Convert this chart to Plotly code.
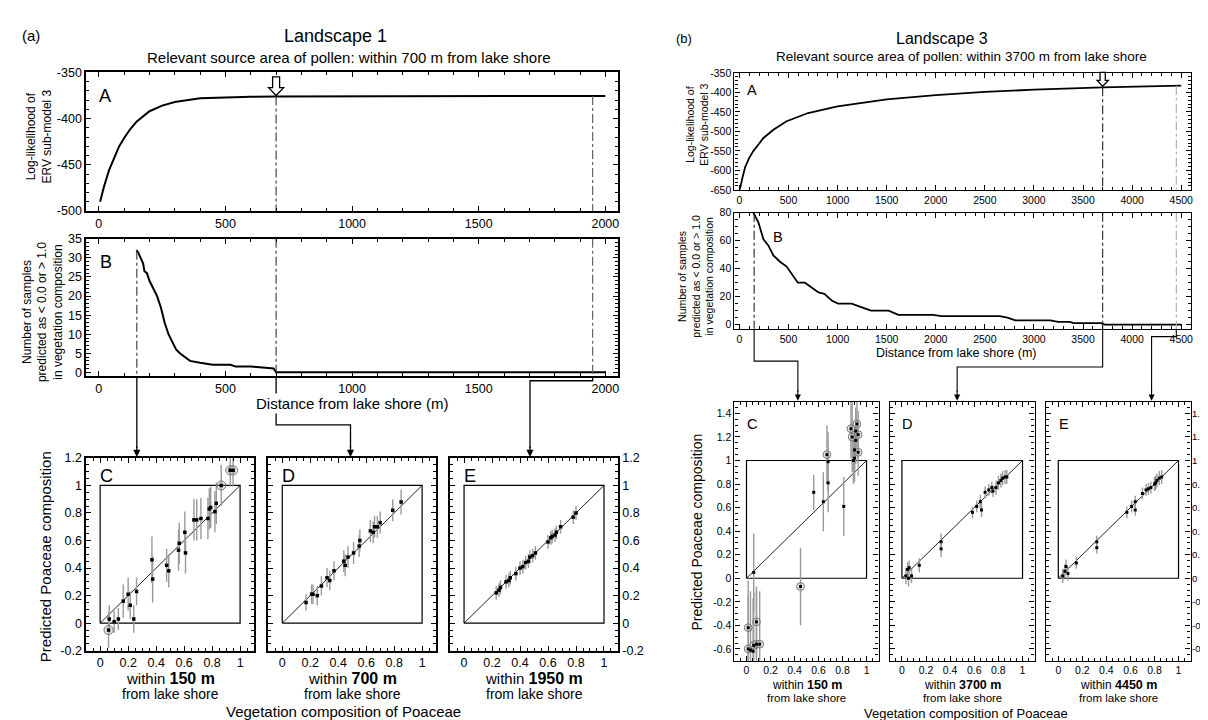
import numpy as np
import plotly.graph_objects as go

W, H = 1208, 720
FONT = "Liberation Sans, Arial, sans-serif"

# ---------------- data: Landscape 1 (left) ----------------
la_dist = [5, 20, 40, 60, 80, 100, 125, 150, 175, 200, 250, 300, 400, 500, 600, 700, 900, 1200, 1600, 2000]
la_loglik = [-490, -474, -456, -442, -430, -421, -411, -403, -397, -392, -386, -382, -378, -377, -376.3,
             -376, -375.8, -375.7, -375.6, -375.5]

lb_dist = [148, 155, 165, 175, 180, 190, 200, 215, 230, 245, 260, 275, 290, 305, 320, 340, 360,
           400, 450, 520, 540, 600, 690, 700, 2000]
lb_count = [32, 31.5, 30, 28.5, 26.5, 26, 24, 22, 20, 17, 13, 10, 8, 6, 5, 4, 3,
            2.5, 2, 2, 1.5, 1.5, 1, 0, 0]
l_marks = [150, 700, 1950]

lc_x = [0.06, 0.065, 0.10, 0.13, 0.165, 0.20, 0.215, 0.24, 0.26, 0.37, 0.375, 0.475, 0.49, 0.56,
        0.565, 0.605, 0.61, 0.67, 0.69, 0.72, 0.77, 0.78, 0.79, 0.82, 0.83, 0.865, 0.93, 0.95]
lc_y = [-0.05, 0.03, 0.01, 0.03, 0.16, 0.21, 0.13, 0.03, 0.23, 0.46, 0.32, 0.42, 0.38, 0.53,
        0.58, 0.66, 0.51, 0.75, 0.75, 0.76, 0.76, 0.83, 0.84, 0.81, 0.87, 1.0, 1.11, 1.11]
lc_err = [0.13, 0.1, 0.08, 0.08, 0.12, 0.12, 0.1, 0.1, 0.1, 0.17, 0.17, 0.12, 0.12, 0.15,
          0.15, 0.15, 0.15, 0.15, 0.15, 0.15, 0.15, 0.15, 0.15, 0.15, 0.15, 0.15, 0.12, 0.12]
lc_ring = [0, 25, 26, 27]

ld_x = [0.17, 0.21, 0.22, 0.25, 0.28, 0.32, 0.34, 0.37, 0.44, 0.45, 0.47, 0.51, 0.55, 0.555,
        0.63, 0.65, 0.66, 0.68, 0.70, 0.79, 0.85]
ld_y = [0.15, 0.21, 0.21, 0.20, 0.27, 0.33, 0.31, 0.38, 0.45, 0.42, 0.48, 0.51, 0.56, 0.60,
        0.67, 0.66, 0.70, 0.70, 0.73, 0.82, 0.88]
ld_err = [0.06, 0.07, 0.07, 0.07, 0.07, 0.07, 0.07, 0.07, 0.08, 0.08, 0.08, 0.08, 0.08, 0.08,
          0.08, 0.08, 0.08, 0.08, 0.08, 0.08, 0.09]

le_x = [0.23, 0.25, 0.26, 0.30, 0.32, 0.33, 0.37, 0.40, 0.42, 0.44, 0.46, 0.47, 0.49, 0.51,
        0.60, 0.62, 0.63, 0.65, 0.66, 0.69, 0.78, 0.80]
le_y = [0.22, 0.24, 0.26, 0.30, 0.31, 0.33, 0.36, 0.40, 0.41, 0.44, 0.45, 0.48, 0.49, 0.51,
        0.59, 0.62, 0.63, 0.64, 0.66, 0.70, 0.77, 0.80]
le_err = [0.05] * 22

# ---------------- data: Landscape 3 (right) ----------------
ra_dist = [0, 10, 30, 58, 100, 143, 200, 245, 346, 481, 700, 1000, 1500, 2000, 2500, 3000,
           3700, 4500]
ra_loglik = [-650, -643, -620, -592, -568, -550, -532, -517, -496, -474, -453, -436, -418, -407,
             -399, -393, -387, -383]

rb_dist = [143, 194, 245, 296, 346, 414, 481, 595, 667, 726, 806, 865, 944, 1004, 1143, 1262,
           1341, 1520, 1619, 1976, 2056, 2651, 2730, 2810, 3167, 3246, 3365, 3405, 3683, 3722, 4500]
rb_count = [80, 73, 61, 56.5, 49.5, 45, 41.5, 30, 30, 27, 23, 22, 17, 15, 15, 12,
            10, 10, 7, 7, 6, 6, 5, 3, 3, 2, 2, 1, 1, 0, 0]
r_marks = [150, 3700, 4450]

rc_x = [0.06, 0.56, 0.64, 0.68, 0.68, 0.67, 0.81, 0.45, 0.87, 0.88, 0.92, 0.91, 0.93, 0.91,
        0.90, 0.93, 0.89, 0.90, 0.014, 0.083, 0.014, 0.033, 0.055, 0.06, 0.083, 0.11]
rc_y = [0.05, 0.73, 0.65, 0.81, 0.99, 1.05, 0.61, -0.07, 1.27, 1.20, 1.31, 1.25, 1.22, 1.17,
        1.09, 1.07, 1.0, 1.02, -0.42, -0.37, -0.60, -0.61, -0.62, -0.57, -0.56, -0.56]
rc_err = [0.33, 0.15, 0.25, 0.25, 0.25, 0.25, 0.25, 0.33, 0.25, 0.3, 0.2, 0.2, 0.2, 0.2,
          0.2, 0.2, 0.2, 0.2, 0.4, 0.3, 0.45, 0.5, 0.45, 0.45, 0.45, 0.45]
rc_ring = [5, 7, 8, 9, 10, 12, 15, 18, 19, 20, 23, 24, 25]

rd_x = [0.033, 0.047, 0.06, 0.055, 0.08, 0.144, 0.325, 0.325, 0.585, 0.62, 0.65, 0.66, 0.69,
        0.72, 0.745, 0.755, 0.78, 0.80, 0.82, 0.835, 0.855, 0.87]
rd_y = [0.02, 0.075, 0.09, 0.0, 0.02, 0.11, 0.31, 0.25, 0.56, 0.61, 0.65, 0.58, 0.73,
        0.75, 0.77, 0.74, 0.77, 0.81, 0.83, 0.85, 0.86, 0.86]
rd_err = [0.07, 0.06, 0.06, 0.07, 0.06, 0.06, 0.07, 0.07, 0.05, 0.05, 0.06, 0.06, 0.05,
          0.05, 0.05, 0.05, 0.06, 0.06, 0.06, 0.06, 0.06, 0.06]

re_x = [0.037, 0.055, 0.064, 0.08, 0.15, 0.32, 0.32, 0.57, 0.61, 0.64, 0.64, 0.70, 0.73,
        0.75, 0.77, 0.80, 0.82, 0.84, 0.86, 0.81]
re_y = [0.02, 0.06, 0.10, 0.04, 0.13, 0.31, 0.26, 0.56, 0.61, 0.65, 0.58, 0.72, 0.75,
        0.76, 0.77, 0.80, 0.83, 0.85, 0.86, 0.81]
re_err = [0.06, 0.06, 0.06, 0.06, 0.05, 0.05, 0.05, 0.05, 0.05, 0.05, 0.05, 0.05, 0.05,
          0.05, 0.05, 0.06, 0.06, 0.06, 0.06, 0.06]

# ---------------- panel geometry (pixels) ----------------
# name: (axis number, x0, x1, y0, y1, xrange, yrange)
panels = {
    "LA": (1, 78.3, 611, 58.5, 200, [-50, 2050], [-500, -350]),
    "LB": (2, 78.3, 611, 228.3, 368.3, [-50, 2050], [-1, 35]),
    "LC": (3, 78.3, 246.5, 451.7, 648.3, [-0.1, 1.1], [-0.2, 1.2]),
    "LD": (4, 260.7, 428.8, 451.7, 648.3, [-0.1, 1.1], [-0.2, 1.2]),
    "LE": (5, 442.8, 611, 451.7, 648.3, [-0.1, 1.1], [-0.2, 1.2]),
    "RA": (6, 727.7, 1185, 59, 178.3, [-50, 4600], [-650, -350]),
    "RB": (7, 727.7, 1185, 201.7, 320, [-50, 4600], [-3, 80]),
    "RC": (8, 727.7, 872, 394.3, 658.5, [-0.1, 1.1], [-0.7, 1.5]),
    "RD": (9, 883.3, 1028.3, 394.3, 658.5, [-0.1, 1.1], [-0.7, 1.5]),
    "RE": (10, 1040, 1184.5, 394.3, 658.5, [-0.1, 1.1], [-0.7, 1.5]),
}


def px(x):
    return x / W


def py(y):
    return 1 - y / H


def ref(name):
    n = panels[name][0]
    s = "" if n == 1 else str(n)
    return "x" + s, "y" + s


def to_px_x(name, v):
    _, x0, x1, _, _, xr, _ = panels[name]
    return x0 + (v - xr[0]) / (xr[1] - xr[0]) * (x1 - x0)


def fmt(v):
    return f"{v:g}"


fig = go.Figure()
layout = dict(width=W, height=H, margin=dict(l=0, r=0, t=0, b=0), showlegend=False,
              plot_bgcolor="white", paper_bgcolor="white", font=dict(family=FONT, color="black"))

unit = [0, 0.2, 0.4, 0.6, 0.8, 1]
l_comp = [-0.2, 0, 0.2, 0.4, 0.6, 0.8, 1, 1.2]
r_comp = [-0.6, -0.4, -0.2, 0, 0.2, 0.4, 0.6, 0.8, 1, 1.2, 1.4]
tick_cfg = {
    "LA": (list(range(0, 2001, 500)), 100, list(range(-500, -349, 50)), 10, "left", 12.5),
    "LB": (list(range(0, 2001, 500)), 100, list(range(0, 36, 5)), 1, "left", 12.5),
    "LC": (unit, 0.05, l_comp, 0.05, "left", 12.5),
    "LD": (unit, 0.05, l_comp, 0.05, None, 12.5),
    "LE": (unit, 0.05, l_comp, 0.05, "right", 12.5),
    "RA": (list(range(0, 4501, 500)), 100, list(range(-650, -349, 50)), 10, "left", 10.5),
    "RB": (list(range(0, 4501, 500)), 100, list(range(0, 81, 20)), 5, "left", 10.5),
    "RC": (unit, 0.05, r_comp, 0.05, "left", 10.5),
    "RD": (unit, 0.05, r_comp, 0.05, None, 10.5),
    "RE": (unit, 0.05, r_comp, 0.05, None, 10.5),
}

for name, (n, x0, x1, y0, y1, xr, yr) in panels.items():
    xt, xminor, yt, yminor, yside, fs = tick_cfg[name]
    lw = 1.6 if name[0] == "L" else 1.3
    common = dict(showline=True, linecolor="black", linewidth=lw, mirror="allticks", ticks="inside",
                  ticklen=5, tickwidth=1, tickcolor="black", showgrid=False, zeroline=False,
                  tickfont=dict(size=fs, family=FONT), tickmode="array")
    s = "" if n == 1 else str(n)
    layout["xaxis" + s] = dict(common, domain=[px(x0), px(x1)], range=xr, anchor="y" + s,
                               tickvals=xt, ticktext=[fmt(v) for v in xt],
                               minor=dict(tickmode="linear", tick0=0, dtick=xminor, ticks="inside",
                                          ticklen=3, tickcolor="black", showgrid=False))
    layout["yaxis" + s] = dict(common, domain=[py(y1), py(y0)], range=yr, anchor="x" + s,
                               tickvals=yt, ticktext=[fmt(v) for v in yt],
                               showticklabels=yside is not None, side=yside or "left",
                               minor=dict(tickmode="linear", tick0=0, dtick=yminor, ticks="inside",
                                          ticklen=3, tickcolor="black", showgrid=False))

# ---------------- curves ----------------
for name, xs, ys, w in [("LA", la_dist, la_loglik, 2), ("LB", lb_dist, lb_count, 2),
                        ("RA", ra_dist, ra_loglik, 1.8), ("RB", rb_dist, rb_count, 1.8)]:
    xa, ya = ref(name)
    fig.add_trace(go.Scatter(x=xs, y=ys, xaxis=xa, yaxis=ya, mode="lines",
                             line=dict(color="black", width=w), hoverinfo="skip"))


# dash-dot markers of the chosen distances
def vline(name, xv, ytop, ybot, color):
    xa, ya = ref(name)
    fig.add_trace(go.Scatter(x=[xv, xv], y=[ytop, ybot], xaxis=xa, yaxis=ya, mode="lines",
                             line=dict(color=color, width=1.1, dash="dashdot"), hoverinfo="skip"))


for i, m in enumerate(l_marks):
    col = "#333" if i < 2 else "#555"
    if i > 0:
        vline("LA", m, float(np.interp(m, la_dist, la_loglik)), panels["LA"][6][0], col)
        vline("LB", m, panels["LB"][6][1], panels["LB"][6][0], col)
    else:
        vline("LB", m, float(np.interp(m, lb_dist, lb_count)), panels["LB"][6][0], col)

for i, m in enumerate(r_marks):
    col = "#222" if i < 2 else "#aaa"
    if i > 0:
        vline("RA", m, float(np.interp(m, ra_dist, ra_loglik)), panels["RA"][6][0], col)
    vline("RB", m, panels["RB"][6][1], panels["RB"][6][0], col)


# ---------------- scatter panels ----------------
def scatter_panel(name, xs, ys, errs, rings, size):
    xa, ya = ref(name)
    # valid-range box and 1:1 line
    fig.add_trace(go.Scatter(x=[0, 1, 1, 0, 0], y=[0, 0, 1, 1, 0], xaxis=xa, yaxis=ya, mode="lines",
                             line=dict(color="black", width=1.2), hoverinfo="skip"))
    fig.add_trace(go.Scatter(x=[0, 1], y=[0, 1], xaxis=xa, yaxis=ya, mode="lines",
                             line=dict(color="#222", width=1), hoverinfo="skip"))
    fig.add_trace(go.Scatter(x=xs, y=ys, xaxis=xa, yaxis=ya, mode="markers", cliponaxis=False,
                             marker=dict(size=0.1, color="rgba(0,0,0,0)"),
                             error_y=dict(type="data", array=errs, color="#9a9a9a", thickness=1.4,
                                          width=0), hoverinfo="skip"))
    if rings:
        fig.add_trace(go.Scatter(x=[xs[i] for i in rings], y=[ys[i] for i in rings], xaxis=xa,
                                 yaxis=ya, mode="markers", cliponaxis=False,
                                 marker=dict(size=size * 2.6, color="rgba(190,190,190,0.35)",
                                             line=dict(color="#777", width=1)), hoverinfo="skip"))
    fig.add_trace(go.Scatter(x=xs, y=ys, xaxis=xa, yaxis=ya, mode="markers", cliponaxis=False,
                             marker=dict(size=size, color="black", symbol="square"), hoverinfo="skip"))


scatter_panel("LC", lc_x, lc_y, lc_err, lc_ring, 3.5)
scatter_panel("LD", ld_x, ld_y, ld_err, [], 3.5)
scatter_panel("LE", le_x, le_y, le_err, [], 3.5)
scatter_panel("RC", rc_x, rc_y, rc_err, rc_ring, 3)
scatter_panel("RD", rd_x, rd_y, rd_err, [], 3)
scatter_panel("RE", re_x, re_y, re_err, [], 3)

# ---------------- annotations ----------------
ann = []
shapes = []


def text(x, y, s, size, angle=0, anchor="center", bg=None):
    d = dict(x=px(x), y=py(y), xref="paper", yref="paper", text=s, showarrow=False,
             font=dict(size=size, family=FONT, color="black"), textangle=angle,
             xanchor=anchor, yanchor="middle", align="center")
    if bg:
        d["bgcolor"] = bg
    ann.append(d)


# right-hand tick labels of the last landscape-3 panel (kept tight to the page edge)
xa, ya = ref("RE")
for v in r_comp:
    ann.append(dict(x=1.0, y=v, xref=xa + " domain", yref=ya, text=fmt(v), showarrow=False,
                    xanchor="left", yanchor="middle", xshift=0, borderpad=0,
                    font=dict(size=9.5, family=FONT, color="black")))

# titles
text(12, 21, "(a)", 15, anchor="left")
text(328, 21, "Landscape 1", 18)
text(342, 43, "Relevant source area of pollen: within 700 m from lake shore", 15)
text(667, 24, "(b)", 13, anchor="left")
text(936, 24, "Landscape 3", 16)
text(955, 42, "Relevant source area of pollen: within 3700 m from lake shore", 13.5)

# axis titles
text(31, 124, "Log-likelihood of<br>ERV sub-model 3", 12, angle=-90)
text(34, 303, "Number of samples<br>predicted as &lt; 0.0 or &gt; 1.0<br>in vegetation composition", 12, angle=-90)
text(345, 396, "Distance from lake shore (m)", 15, bg="white")
text(37, 552, "Predicted Poaceae composition", 15, angle=-90)
text(336, 710, "Vegetation composition of Poaceae", 15)

text(690, 112, "Log-likelihood of<br>ERV sub-model 3", 10.5, angle=-90)
text(689, 266, "Number of samples<br>predicted as &lt; 0.0 or &gt; 1.0<br>in vegetation composition", 10.5, angle=-90)
text(950, 345, "Distance from lake shore (m)", 12.5, bg="white")
text(690, 527, "Predicted Poaceae composition", 14, angle=-90)
text(960, 712, "Vegetation composition of Poaceae", 13)

# under-panel captions
for name, dist in [("LC", 150), ("LD", 700), ("LE", 1950),
                   ("RC", 150), ("RD", 3700), ("RE", 4450)]:
    _, x0, x1, _, y1, _, _ = panels[name]
    cx = (x0 + x1) / 2
    if name[0] == "L":
        text(cx, y1 + 28, f"within <b><span style='font-size:16px'>{dist} m</span></b>", 15)
        text(cx, y1 + 44.5, "from lake shore", 14)
    else:
        text(cx, y1 + 25, f"within <b><span style='font-size:12.5px'>{dist} m</span></b>", 12)
        text(cx, y1 + 38.5, "from lake shore", 11.5)

# panel letters
for name, lx, ly, fs in [("LA", 0.035, 0.83, 18), ("LB", 0.037, 0.83, 18), ("LC", 0.12, 0.905, 18),
                         ("LD", 0.12, 0.905, 18), ("LE", 0.12, 0.905, 18),
                         ("RA", 0.038, 0.85, 14.5), ("RB", 0.096, 0.79, 14.5), ("RC", 0.12, 0.915, 14.5),
                         ("RD", 0.12, 0.915, 14.5), ("RE", 0.12, 0.915, 14.5)]:
    xa, ya = ref(name)
    ann.append(dict(x=lx, y=ly, xref=xa + " domain", yref=ya + " domain", text=name[1],
                    showarrow=False, font=dict(size=fs, family=FONT, color="black"),
                    xanchor="center", yanchor="middle"))

# hollow arrows pointing to the chosen distance on curve A
for name, m, xs, ys, scale in [("LA", l_marks[1], la_dist, la_loglik, 1.0),
                                ("RA", r_marks[1], ra_dist, ra_loglik, 0.75)]:
    cx = to_px_x(name, m)
    _, _, _, y0, y1, _, yr = panels[name]
    tip = y0 + (yr[1] - float(np.interp(m, xs, ys))) / (yr[1] - yr[0]) * (y1 - y0) - 1
    hw, sw, hh, top = 7.5 * scale, 3.5 * scale, 8 * scale, tip - 19 * scale
    pts = [(cx - sw, top), (cx + sw, top), (cx + sw, tip - hh), (cx + hw, tip - hh), (cx, tip),
           (cx - hw, tip - hh), (cx - sw, tip - hh)]
    path = "M " + " L ".join(f"{px(a):.5f},{py(b):.5f}" for a, b in pts) + " Z"
    shapes.append(dict(type="path", path=path, xref="paper", yref="paper",
                       line=dict(color="black", width=1.3), fillcolor="white"))


# connectors from B to the scatter panels
def connector(src, dist, dst, frac, elbow_y, lw):
    sx = to_px_x(src, dist)
    sy = panels[src][4]
    _, x0, x1, ty, _, _, _ = panels[dst]
    tx = x0 + frac * (x1 - x0)
    pts = [(sx, sy), (sx, elbow_y), (tx, elbow_y), (tx, ty - 10)]
    path = "M " + " L ".join(f"{px(a):.5f},{py(b):.5f}" for a, b in pts)
    shapes.append(dict(type="path", path=path, xref="paper", yref="paper",
                       line=dict(color="black", width=lw), layer="below"))
    ann.append(dict(x=px(tx), y=py(ty - 1), xref="paper", yref="paper", ax=0, ay=-12,
                    showarrow=True, arrowhead=2, arrowsize=1.1, arrowwidth=lw, arrowcolor="black",
                    text=""))


connector("LB", l_marks[0], "LC", (to_px_x("LB", l_marks[0]) - 78.3) / 168.2, 420, 1.3)
connector("LB", l_marks[1], "LD", 0.49, 418, 1.3)
connector("LB", l_marks[2], "LE", 0.476, 373, 1.3)
connector("RB", r_marks[0], "RC", 0.44, 353, 1.1)
connector("RB", r_marks[1], "RD", 0.465, 359, 1.1)
connector("RB", r_marks[2], "RE", 0.73, 328, 1.1)

layout["annotations"] = ann
layout["shapes"] = shapes
fig.update_layout(**layout)
fig.write_html("out.html")
